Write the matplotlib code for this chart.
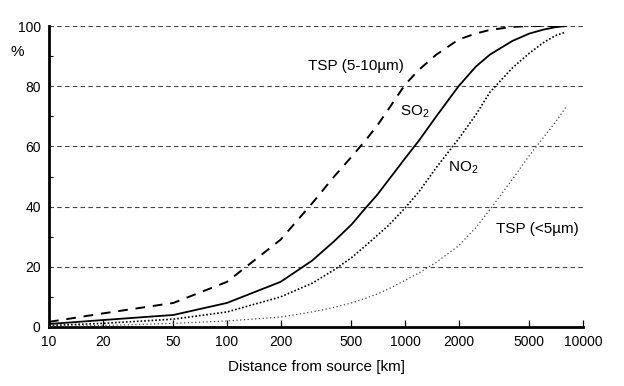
import matplotlib.pyplot as plt
from matplotlib.ticker import FixedLocator, NullFormatter

plt.rcParams['font.family'] = ['Liberation Sans', 'DejaVu Sans']
plt.rcParams['mathtext.fontset'] = 'custom'
plt.rcParams['mathtext.rm'] = 'Liberation Sans'

# distance from source [km] and cumulative share [%]
distance = [10, 20, 50, 100, 200, 300, 400, 500, 600, 700, 800, 1000,
            1200, 1500, 2000, 2500, 3000, 4000, 5000, 6000, 7000, 8000]
tsp_coarse = [1.7, 4.5, 8, 15, 29, 41, 50, 56.5, 62, 67, 72, 80.5,
              85.5, 90.5, 95.5, 97.5, 98.7, 99.7, 100, 100, 100, 100]
so2 = [1, 2.3, 4, 8, 15, 22, 28.5, 34, 39.5, 44, 48.5, 56,
       62, 70, 80, 86.5, 90.5, 95, 97.5, 98.8, 99.6, 100]
no2 = [0.5, 1.2, 2.6, 5, 10, 14.5, 19, 23, 27, 30.5, 33.5, 39.5,
       45, 53, 62.5, 70.5, 78, 86, 91, 94.5, 96.8, 98]
tsp_fine = [0.2, 0.5, 1.2, 2, 3.3, 5, 6.5, 8, 9.5, 11, 12.5, 15.5,
            18, 21.5, 27, 33, 39, 49, 57, 63, 68, 73]

x_ticks = [10, 20, 50, 100, 200, 500, 1000, 2000, 5000, 10000]
y_ticks = [0, 20, 40, 60, 80, 100]

fig = plt.figure(figsize=(6.24, 3.86), dpi=100)
ax = fig.add_axes([49 / 624, 59 / 386, 534 / 624, 301 / 386])

# grid lines
for y in y_ticks[1:]:
    ax.axhline(y, color='#444444', lw=0.8, ls=(0, (4, 3)), zorder=1)

ax.plot(distance, tsp_coarse, color='black', lw=1.4, ls=(0, (5, 4)), zorder=3)
ax.plot(distance, so2, color='black', lw=1.3, ls='-', zorder=3)
ax.plot(distance, no2, color='black', lw=1.2, ls=(0, (1, 1.2)), zorder=3)
ax.plot(distance, tsp_fine, color='#444444', lw=0.9, ls=(0, (1, 2)), zorder=3)

ax.set_xscale('log')
ax.set_xlim(10, 10000)
ax.set_ylim(0, 100)
ax.xaxis.set_major_locator(FixedLocator(x_ticks))
ax.xaxis.set_minor_locator(FixedLocator([]))
ax.set_xticklabels([str(t) for t in x_ticks])
ax.xaxis.set_minor_formatter(NullFormatter())
ax.set_yticks(y_ticks)
ax.set_yticks([10, 30, 50, 70, 90], minor=True)

ax.tick_params(axis='x', direction='in', length=5, width=0.9, labelsize=10, pad=6)
ax.tick_params(axis='y', which='major', direction='in', length=0, labelsize=10, pad=6)
ax.tick_params(axis='y', which='minor', direction='in', length=3, width=0.8)

for side in ['top', 'right']:
    ax.spines[side].set_visible(False)
for side in ['left', 'bottom']:
    ax.spines[side].set_linewidth(2)

ax.text(285, 86.7, 'TSP (5-10µm)', fontsize=11, ha='left', va='center')
ax.text(937, 71.4, r'SO$_\mathrm{2}$', fontsize=11, ha='left', va='center')
ax.text(1745, 52.8, r'NO$_\mathrm{2}$', fontsize=11, ha='left', va='center')
ax.text(3240, 32.6, 'TSP (<5µm)', fontsize=11, ha='left', va='center')

fig.text(17 / 624, 1 - 52 / 386, '%', fontsize=11, ha='center', va='center')
ax.set_xlabel('Distance from source [km]', fontsize=11, labelpad=8)

fig.savefig('out.png', dpi=100, facecolor='white')
